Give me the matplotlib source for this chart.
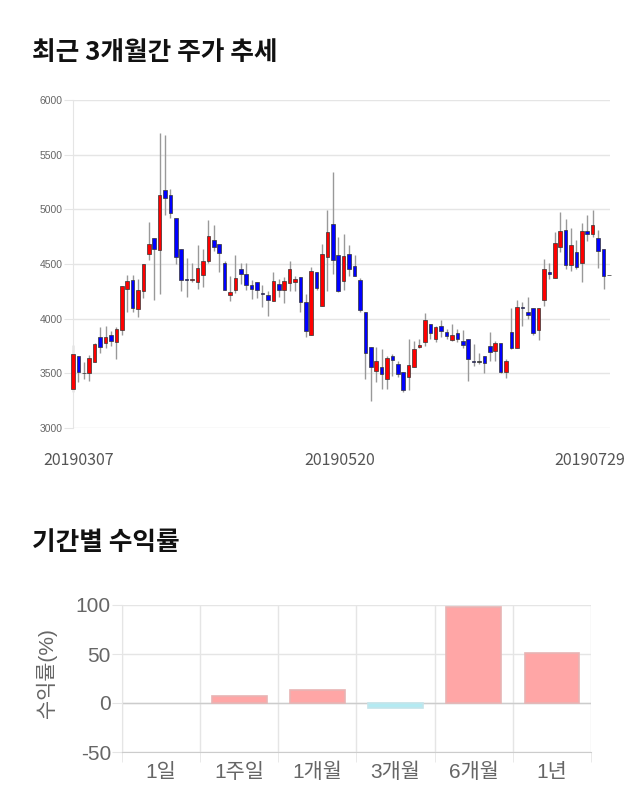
import matplotlib
matplotlib.use("Agg")
import matplotlib.pyplot as plt
import matplotlib.transforms as mtransforms
import numpy as np

plt.rcParams['font.family'] = ['Liberation Sans', 'Noto Sans CJK KR', 'DejaVu Sans']
plt.rcParams['axes.unicode_minus'] = False

# ── daily candles, 100 trading days (2019-03-07 .. 2019-07-29) ──
opens = [3360, 3660, 3500, 3500, 3605, 3835, 3775, 3850, 3790, 3895,
         4275, 4355, 4085, 4250, 4590, 4740, 4625, 5180, 5135, 4925,
         4640, 4360, 4355, 4335, 4400, 4525, 4720, 4685, 4505, 4215,
         4265, 4450, 4410, 4305, 4335, 4235, 4220, 4165, 4320, 4265,
         4330, 4335, 4385, 4155, 3850, 4425, 4115, 4565, 4865, 4585,
         4345, 4595, 4485, 4350, 4060, 3745, 3520, 3560, 3445, 3655,
         3585, 3510, 3470, 3560, 3745, 3790, 3955, 3815, 3930, 3880,
         3805, 3865, 3795, 3815, 3615, 3605, 3655, 3750, 3705, 3780,
         3515, 3880, 3735, 4105, 4065, 4100, 3900, 4170, 4430, 4370,
         4655, 4810, 4490, 4610, 4505, 4800, 4775, 4740, 4640, 4395]
highs = [3755, 3660, 3600, 3670, 3775, 3925, 3930, 3885, 3925, 4300,
         4400, 4400, 4360, 4500, 4885, 4740, 5700, 5680, 5185, 4925,
         4640, 4555, 4510, 4670, 4640, 4900, 4860, 4685, 4525, 4390,
         4585, 4505, 4505, 4350, 4335, 4305, 4250, 4425, 4365, 4380,
         4530, 4390, 4385, 4230, 4470, 4425, 4685, 4990, 5345, 4750,
         4770, 4670, 4585, 4375, 4060, 3745, 3740, 3725, 3660, 3680,
         3610, 3510, 3810, 3795, 3810, 4055, 3955, 3935, 3990, 3910,
         3955, 3910, 3900, 3815, 3770, 3690, 3655, 3880, 3795, 3780,
         3630, 4100, 4170, 4150, 4195, 4100, 4100, 4545, 4510, 4795,
         4975, 4910, 4825, 4715, 4875, 4950, 4990, 4815, 4640, 4395]
lows = [3325, 3420, 3445, 3430, 3600, 3690, 3735, 3750, 3635, 3850,
        4060, 4060, 4015, 4190, 4535, 4175, 4230, 4945, 4925, 4500,
        4250, 4200, 4335, 4275, 4290, 4505, 4615, 4425, 4260, 4160,
        4235, 4315, 4260, 4180, 4190, 4110, 4025, 4165, 4200, 4145,
        4250, 4250, 4060, 3835, 3850, 4260, 4115, 4250, 4410, 4245,
        4265, 4390, 4390, 4060, 3445, 3245, 3425, 3355, 3355, 3475,
        3470, 3325, 3350, 3560, 3735, 3750, 3810, 3790, 3835, 3810,
        3795, 3790, 3735, 3430, 3570, 3585, 3500, 3615, 3615, 3500,
        3460, 3720, 3735, 3935, 4000, 3855, 3805, 4120, 4365, 4370,
        4610, 4455, 4435, 4455, 4335, 4710, 4745, 4465, 4275, 4395]
closes = [3680, 3515, 3500, 3640, 3765, 3745, 3835, 3795, 3910, 4300,
          4340, 4095, 4260, 4500, 4685, 4635, 5135, 5105, 4965, 4560,
          4350, 4355, 4360, 4465, 4525, 4760, 4660, 4600, 4260, 4245,
          4375, 4410, 4305, 4270, 4265, 4225, 4175, 4340, 4260, 4340,
          4450, 4360, 4155, 3885, 4440, 4280, 4590, 4795, 4540, 4255,
          4575, 4455, 4390, 4080, 3690, 3560, 3615, 3490, 3640, 3625,
          3490, 3350, 3580, 3725, 3755, 3985, 3865, 3925, 3885, 3840,
          3850, 3815, 3755, 3630, 3605, 3605, 3590, 3695, 3780, 3515,
          3615, 3735, 4110, 4095, 4035, 3865, 4100, 4455, 4405, 4695,
          4805, 4495, 4670, 4475, 4800, 4775, 4860, 4615, 4390, 4395]

date_ticks = [0, 50, 99]
date_labels = ["20190307", "20190520", "20190729"]

# ── period returns (%) ──
periods = ["1일", "1주일", "1개월", "3개월", "6개월", "1년"]
returns = [0.0, 7.0, 13.3, -5.1, 98.3, 50.6]

W, H = 640, 810
GRID = "#e5e5e5"
TXT = "#666666"


def box(left, top, right, bottom):
    """pixel box -> figure fraction rect"""
    return [left / W, 1 - bottom / H, (right - left) / W, (bottom - top) / H]


fig = plt.figure(figsize=(W / 100, H / 100), dpi=100)

# ── candle chart ──
fig.text(32 / W, 1 - 52 / H, "최근 3개월간 주가 추세", fontsize=18.5, fontweight="bold",
         family="Noto Sans CJK KR", color="#111111", ha="left", va="center")

ax = fig.add_axes(box(72.7, 100, 610, 428))
o = np.array(opens)
hi = np.array(highs)
lo = np.array(lows)
c = np.array(closes)
x = np.arange(len(o))
body_col = np.where(c > o, "#ff0000", np.where(c < o, "#0000ff", "#333333"))

ax.vlines(x, lo, hi, color="#999999", lw=1, zorder=2, clip_on=False)
ax.bar(x, np.maximum(np.abs(c - o), 6), bottom=np.minimum(o, c), width=0.66,
       color=body_col, edgecolor="#333333", linewidth=0.5, zorder=3, clip_on=False)

ax.set_xlim(-0.06, 99.2)
ax.set_ylim(3000, 6000)
ax.set_yticks(range(3000, 6001, 500))
ax.yaxis.grid(True, color=GRID, lw=1)
ax.set_axisbelow(True)
for s in ["top", "right", "bottom"]:
    ax.spines[s].set_visible(False)
ax.spines["left"].set_color(GRID)
ax.tick_params(axis="y", length=6.5, color=GRID, labelsize=7.5, labelcolor=TXT, pad=1)
ax.set_xticks(date_ticks, date_labels)
ax.tick_params(axis="x", length=0, pad=17, labelsize=11.5, labelcolor="#555555")
for lbl in ax.get_xticklabels():
    lbl.set_family("Noto Sans CJK KR")
# chart.js keeps the edge labels inside the canvas
shifts = [6, -4, -19]
for lbl, dx in zip(ax.get_xticklabels(), shifts):
    lbl.set_transform(lbl.get_transform() + mtransforms.ScaledTranslation(dx / 100, 0, fig.dpi_scale_trans))

# ── returns bar chart ──
fig.text(32 / W, 1 - 543 / H, "기간별 수익률", fontsize=18.5, fontweight="bold",
         family="Noto Sans CJK KR", color="#111111", ha="left", va="center")

ax2 = fig.add_axes(box(122, 605, 591, 752))
xb = np.arange(len(periods))
face = ["#ffa6a6" if v >= 0 else "#b4eaf2" for v in returns]
edge = ["none" if v == 0 else ("#e8b4b4" if v > 0 else "#c4e4ea") for v in returns]
ax2.bar(xb, returns, width=0.7, color=face, edgecolor=edge, linewidth=1.2, zorder=3)
ax2.axhline(0, color="#cccccc", lw=1, zorder=2)

ax2.set_xlim(-0.5, 5.5)
ax2.set_ylim(-50, 100)
ax2.set_yticks([-50, 0, 50, 100])
ax2.set_xticks(xb, periods)
ax2.set_xticks(np.arange(-0.5, 6, 1), minor=True)
ax2.grid(which="minor", axis="x", color=GRID, lw=1)
ax2.grid(which="major", axis="y", color=GRID, lw=1)
ax2.set_axisbelow(True)
for s in ["top", "right"]:
    ax2.spines[s].set_visible(False)
ax2.spines["left"].set_color(GRID)
ax2.spines["bottom"].set_color("#cccccc")
ax2.tick_params(axis="x", which="major", length=0, pad=8, labelsize=15, labelcolor=TXT)
ax2.tick_params(axis="x", which="minor", length=7, color=GRID)
ax2.tick_params(axis="y", length=7, color=GRID, labelsize=15, labelcolor=TXT, pad=1)
fig.text(46.7 / W, 1 - 673 / H, "수익률(%)", rotation=90, fontsize=15, color=TXT,
         ha="center", va="center")

fig.savefig("out.png", dpi=100)
